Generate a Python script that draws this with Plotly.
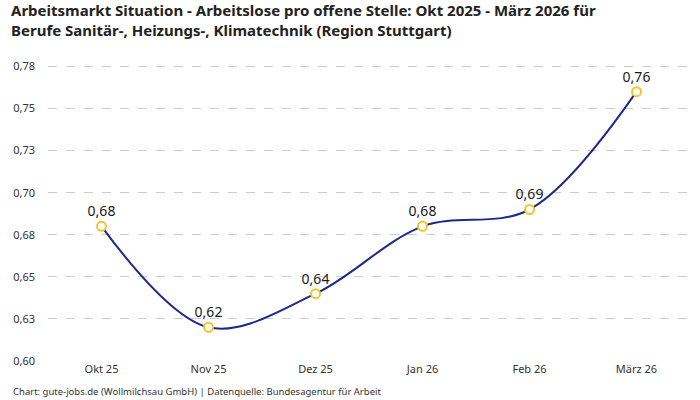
import plotly.graph_objects as go

# Daten
monate = ["Okt 25", "Nov 25", "Dez 25", "Jan 26", "Feb 26", "März 26"]
werte = [0.68, 0.62, 0.64, 0.68, 0.69, 0.76]
labels = ["0,68", "0,62", "0,64", "0,68", "0,69", "0,76"]
y_ticks = [0.6, 0.625, 0.65, 0.675, 0.7, 0.725, 0.75, 0.775]
y_tick_text = ["0,60", "0,63", "0,65", "0,68", "0,70", "0,73", "0,75", "0,78"]
titel_zeilen = [
    "Arbeitsmarkt Situation - Arbeitslose pro offene Stelle: Okt 2025 - März 2026 für",
    "Berufe Sanitär-, Heizungs-, Klimatechnik (Region Stuttgart)",
]

FONT = "Noto Sans"

fig = go.Figure()

fig.add_trace(
    go.Scatter(
        x=monate,
        y=werte,
        mode="lines+markers+text",
        text=labels,
        textposition="top center",
        textfont=dict(size=14, color="#1a1a1a", family=FONT),
        line=dict(color="#1b2a8a", width=2, shape="spline"),
        marker=dict(size=9, color="white", line=dict(color="#f7c325", width=2)),
        cliponaxis=False,
        showlegend=False,
    )
)

# Titel zeilenweise als Annotationen (engerer Zeilenabstand)
annotations = []
for i, zeile in enumerate(titel_zeilen):
    annotations.append(
        dict(
            text="<b>" + zeile + "</b>",
            xref="paper",
            yref="paper",
            x=-0.059,
            y=1.158 - i * 0.064,
            xanchor="left",
            yanchor="middle",
            borderpad=0,
            showarrow=False,
            font=dict(size=15, color="#222222", family=FONT),
        )
    )

annotations.append(
    dict(
        text="Chart: gute-jobs.de (Wollmilchsau GmbH) | Datenquelle: Bundesagentur für Arbeit",
        xref="paper",
        yref="paper",
        x=-0.058,
        y=-0.13,
        xanchor="left",
        yanchor="bottom",
        showarrow=False,
        font=dict(size=9.5, color="#333333", family=FONT),
    )
)

fig.update_layout(
    width=700,
    height=400,
    margin=dict(l=48, r=10, t=58, b=39),
    plot_bgcolor="white",
    paper_bgcolor="white",
    font=dict(family=FONT, size=11, color="#333333"),
    xaxis=dict(
        range=[-0.5, 5.5],
        showgrid=False,
        showline=False,
        zeroline=False,
        tickfont=dict(size=11, color="#333333"),
    ),
    yaxis=dict(
        range=[0.6, 0.78],
        tickvals=y_ticks,
        ticktext=y_tick_text,
        showgrid=True,
        gridcolor="#cccccc",
        griddash="dash",
        gridwidth=1,
        zeroline=False,
        showline=False,
        ticklabelstandoff=12,
        tickfont=dict(size=11, color="#333333"),
    ),
    annotations=annotations,
)

# Seitenrand entfernen, damit die Grafik genau ins Fenster passt
fig.write_html(
    "out.html",
    config={"displayModeBar": False},
    post_script="document.body.style.margin='0';document.body.style.overflow='hidden';",
)
